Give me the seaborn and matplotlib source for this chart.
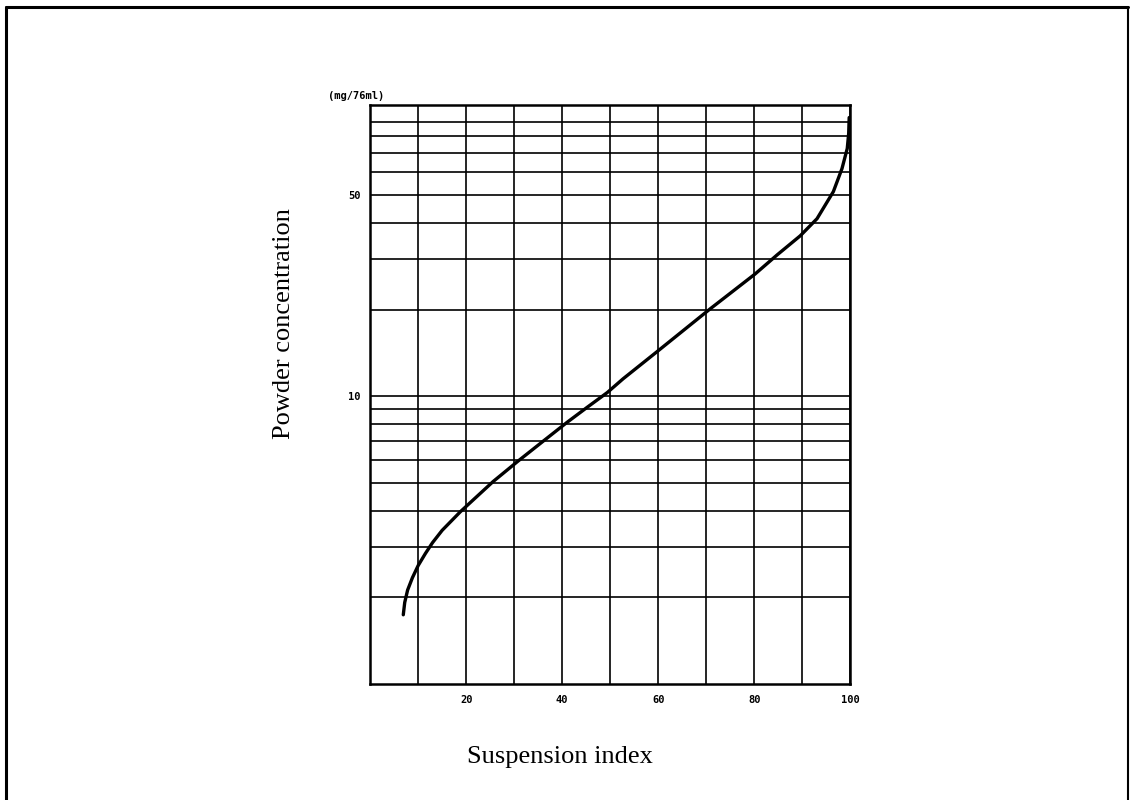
import seaborn as sns
import matplotlib.pyplot as plt
import pandas as pd
from matplotlib.lines import Line2D
from matplotlib.ticker import FixedLocator, NullFormatter

# curve (suspension index vs powder concentration, log y)
suspension_index = [6.9, 7.2, 7.8, 8.8, 10.0, 11.5, 13.0, 15.0, 18.8, 25.6, 30.8,
                    36.0, 41.0, 45.2, 49.4, 52.7, 59.8, 70.8, 80.2, 84.8, 89.6,
                    93.1, 96.5, 98.3, 99.4, 99.7, 99.8]
powder_conc = [1.74, 1.92, 2.12, 2.34, 2.58, 2.84, 3.10, 3.42, 3.97, 5.05, 5.95,
               6.97, 8.11, 9.15, 10.3, 11.5, 14.3, 20.1, 26.6, 31.0, 36.1,
               41.4, 51.4, 61.8, 72.6, 82.0, 93.0]

x_labeled = [20, 40, 60, 80, 100]
x_grid = [10, 30, 50, 70, 90]
y_labeled = [10, 50]
y_grid = [2, 3, 4, 5, 6, 7, 8, 9, 20, 30, 40, 60, 70, 80, 90]

df = pd.DataFrame({"x": suspension_index, "y": powder_conc})

sns.set_style("white", {"text.color": "black", "xtick.color": "black",
                        "ytick.color": "black"})
fig = plt.figure(figsize=(11.32, 8.0), dpi=100)
ax = fig.add_axes([0.327, 0.145, 0.424, 0.724])

sns.lineplot(data=df, x="x", y="y", ax=ax, color="black", lw=2.4, sort=False,
             solid_joinstyle="round", solid_capstyle="round")

ax.set_yscale("log")
ax.set_xlim(0, 100)
ax.set_ylim(1, 103)

ax.xaxis.set_major_locator(FixedLocator(x_labeled))
ax.xaxis.set_minor_locator(FixedLocator(x_grid))
ax.set_xticklabels([str(v) for v in x_labeled])
ax.yaxis.set_major_locator(FixedLocator(y_labeled))
ax.yaxis.set_minor_locator(FixedLocator(y_grid))
ax.set_yticklabels([str(v) for v in y_labeled])
ax.yaxis.set_minor_formatter(NullFormatter())

ax.grid(True, which="both", color="black", lw=1.2)
ax.tick_params(which="both", length=0, labelcolor="black")
ax.tick_params(axis="x", pad=8, labelsize=7.5)
ax.tick_params(axis="y", pad=7, labelsize=7.5)
for lab in ax.get_xticklabels() + ax.get_yticklabels():
    lab.set_fontweight("bold")
    lab.set_family("DejaVu Sans Mono")

for s in ax.spines.values():
    s.set_visible(True)
    s.set_color("black")
    s.set_linewidth(1.8)

ax.set_xlabel("")
ax.set_ylabel("")

# unit above the y axis
fig.text(0.315, 0.880, "(mg/76ml)", fontsize=7.5, fontweight="bold",
         family="DejaVu Sans Mono", ha="center", va="center", color="black")

# axis titles
fig.text(0.251, 0.595, "Powder concentration", rotation=90, fontsize=19,
         family="Liberation Serif", ha="center", va="center", color="black")
fig.text(0.495, 0.054, "Suspension index", fontsize=19,
         family="Liberation Serif", ha="center", va="center", color="black")

# frame round the figure (left, top, right)
fig.add_artist(Line2D([0.0055, 0.0055], [0, 0.991], color="black", lw=2.2,
                      transform=fig.transFigure))
fig.add_artist(Line2D([0.0055, 0.9965], [0.991, 0.991], color="black", lw=2.2,
                      transform=fig.transFigure))
fig.add_artist(Line2D([0.9965, 0.9965], [0, 0.991], color="black", lw=1.5,
                      transform=fig.transFigure))

fig.savefig("out.png", dpi=100, facecolor="white")
